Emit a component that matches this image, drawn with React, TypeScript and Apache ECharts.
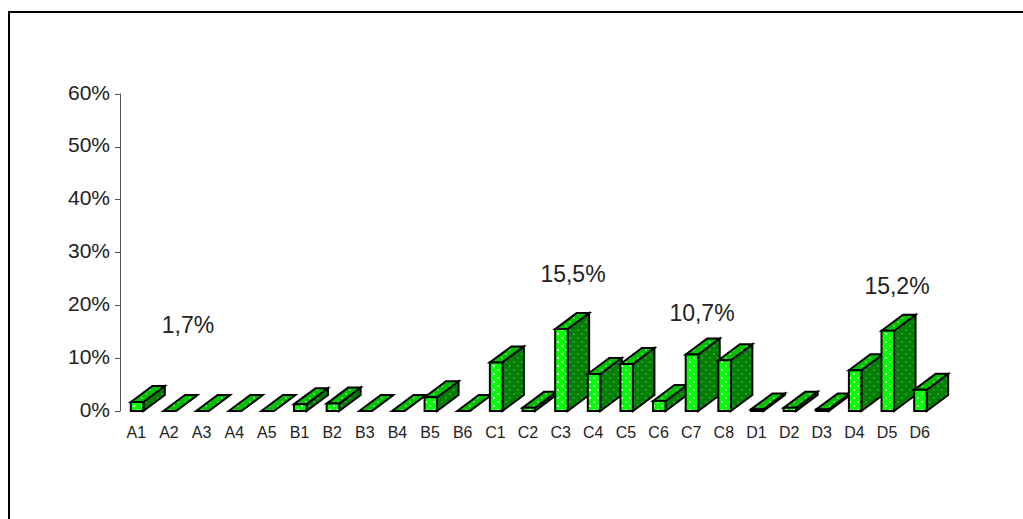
import React, { useEffect, useRef } from "react";
import * as echarts from "echarts";

const categories = ["A1","A2","A3","A4","A5","B1","B2","B3","B4","B5","B6","C1","C2","C3","C4","C5","C6","C7","C8","D1","D2","D3","D4","D5","D6"];
const values = [1.7,0,0,0,0,1.3,1.4,0,0,2.6,0,9.2,0.6,15.5,7.0,8.9,1.9,10.7,9.6,0.3,0.6,0.3,7.7,15.2,4.0];
const yTicks = [0,10,20,30,40,50,60];
const notes = [
  { cat: "A1", text: "1,7%", x: 188, y: 325 },
  { cat: "C3", text: "15,5%", x: 573, y: 274 },
  { cat: "C7", text: "10,7%", x: 702, y: 313 },
  { cat: "D5", text: "15,2%", x: 897, y: 286 },
];

function dots(bg: string, dot: string) {
  const c = document.createElement("canvas");
  c.width = 8; c.height = 8;
  const g = c.getContext("2d")!;
  g.fillStyle = bg; g.fillRect(0,0,8,8);
  g.fillStyle = dot;
  g.fillRect(1,1,2,2); g.fillRect(5,5,2,2);
  return c;
}

export default function App() {
  const ref = useRef<HTMLDivElement>(null);
  useEffect(() => {
    const chart = echarts.init(ref.current!, null, { renderer: "svg" });
    const front = { image: dots("#00ff00", "#ccffcc"), repeat: "repeat" };
    const top = { image: dots("#00c000", "#55d555"), repeat: "repeat" };
    const side = { image: dots("#008000", "#3f8f3f"), repeat: "repeat" };
    const font = "Liberation Sans";
    chart.setOption({
      animation: false,
      grid: { left: 120, top: 94, width: 816, height: 317, containLabel: false },
      xAxis: {
        type: "category",
        data: categories,
        axisTick: { show: false },
        axisLine: { show: false },
        axisLabel: { color: "#222", fontFamily: font, fontSize: 16, margin: 13, interval: 0 },
      },
      yAxis: {
        type: "value", min: 0, max: 60, interval: 10,
        splitLine: { show: false },
        axisLine: { show: true, lineStyle: { color: "#555", width: 1 } },
        axisTick: { show: true, length: 5, lineStyle: { color: "#555" } },
        axisLabel: {
          margin: 10,
          formatter: (v: number) => yTicks.includes(v) ? `{a|${v}%}` : "",
          rich: { a: { color: "#222", fontFamily: font, fontSize: 21, padding: [0, 0, 4, 0] } },
        },
      },
      graphic: [
        { type: "polyline", silent: true, shape: { points: [[9, 519],[9, 12],[1023, 12]] }, style: { stroke: "#000", lineWidth: 2, fill: "none" } },
        ...notes.map((n) => ({ type: "text", x: n.x, y: n.y, style: { text: n.text, fill: "#222", font: `23px "${font}"`, align: "center", verticalAlign: "middle" } })),
      ],
      series: [{
        type: "custom",
        data: values.map((v, i) => [i, v]),
        encode: { x: 0, y: 1 },
        clip: false,
        renderItem: (_p: any, api: any) => {
          const [cx, y1] = api.coord([api.value(0), api.value(1)]);
          const [, y0] = api.coord([api.value(0), 0]);
          const w = 12.5, dx = 21.5, dy = 16;
          const l = cx - 5.5, r = l + w;
          const st = { stroke: "#000", lineWidth: 2, lineJoin: "miter" };
          const poly = (pts: number[][], fill: any) => ({ type: "polygon", shape: { points: pts }, style: { ...st, fill } });
          const h = y0 - y1;
          const kids: any[] = [
            poly([[r, y1],[r + dx, y1 - dy],[r + dx, y0 - dy],[r, y0]], side),
            poly([[l, y1],[l + dx, y1 - dy],[r + dx, y1 - dy],[r, y1]], top),
          ];
          if (h > 0) kids.push(poly([[l, y1],[r, y1],[r, y0],[l, y0]], front));
          return { type: "group", children: kids };
        },
      }],
    });
    return () => chart.dispose();
  }, []);
  return <div ref={ref} style={{ position: "absolute", left: 0, top: 0, width: 1023, height: 519 }} />;
}
